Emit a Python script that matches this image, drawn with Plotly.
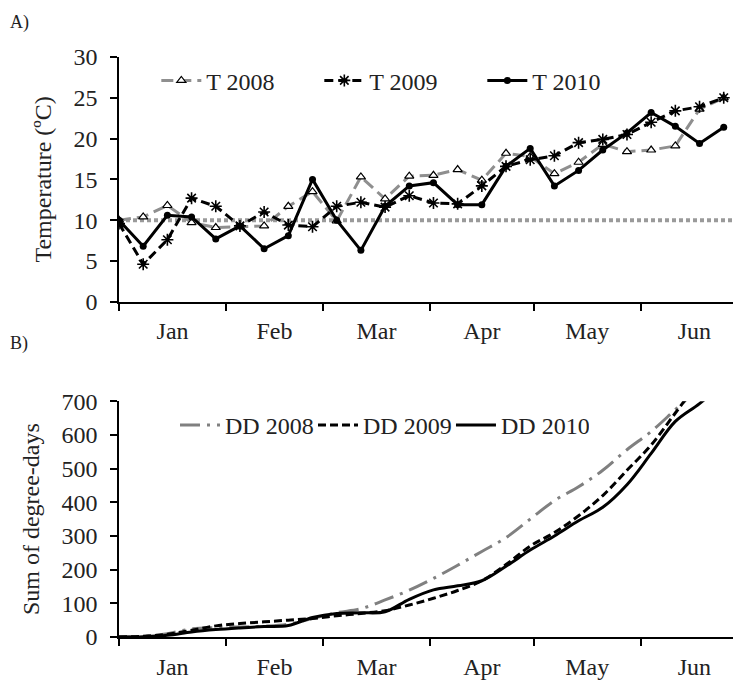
import pandas as pd
import plotly.graph_objects as go
from plotly.subplots import make_subplots

# ---------------- data ----------------
START_DATE = "2010-01-01"
N_WEEKS = 26
week_dates = pd.date_range(START_DATE, periods=N_WEEKS, freq="7D")

BASE_TEMP = 10  # threshold temperature (dotted line)

t_2008 = [10.0, 10.4, 11.8, 9.7, 9.1, 9.2, 9.3, 11.7, 13.5, 9.9, 15.3, 12.6, 15.4,
          15.5, 16.2, 14.9, 18.2, 17.8, 15.7, 17.1, 19.3, 18.4, 18.6, 19.1, 23.6, 25.0]
t_2009 = [9.6, 4.6, 7.6, 12.7, 11.7, 9.3, 11.0, 9.4, 9.2, 11.7, 12.2, 11.6, 13.0,
          12.1, 12.0, 14.2, 16.6, 17.4, 17.9, 19.5, 19.9, 20.5, 22.0, 23.4, 23.9, 25.0]
t_2010 = [10.0, 6.8, 10.6, 10.4, 7.7, 9.3, 6.5, 8.1, 15.0, 10.0, 6.3, 11.7, 14.2,
          14.6, 11.9, 11.9, 16.6, 18.8, 14.2, 16.1, 18.6, 20.7, 23.2, 21.5, 19.4, 21.4]

dd_2008 = [0, 2, 10, 24, 28, 30, 32, 38, 55, 72, 84, 110, 139,
           174, 213, 254, 295, 350, 405, 446, 495, 556, 610, 675, 740, 800]
dd_2009 = [0, 2, 8, 20, 33, 40, 45, 50, 55, 63, 70, 78, 95,
           115, 138, 167, 215, 270, 310, 360, 420, 495, 570, 665, 760, 850]
dd_2010 = [0, 1, 5, 15, 22, 27, 31, 34, 58, 70, 72, 75, 112,
           140, 152, 167, 210, 258, 300, 345, 385, 452, 545, 640, 693, 755]

t_names = ["T 2008", "T 2009", "T 2010"]
dd_names = ["DD 2008", "DD 2009", "DD 2010"]
temp_ticks = [0, 5, 10, 15, 20, 25, 30]
dd_ticks = [0, 100, 200, 300, 400, 500, 600, 700]
x_range = ["2010-01-01", "2010-06-30"]

# ---------------- figure ----------------
FONT = "Liberation Serif"
FS = 24
TXT = "#222222"
fig = make_subplots(rows=2, cols=1, vertical_spacing=0.05)

GRAY = "#8f8f8f"
fig.add_trace(go.Scatter(
    x=week_dates, y=t_2008, name=t_names[0], mode="lines+markers",
    line=dict(color=GRAY, width=3, dash="12px,6px"),
    marker=dict(symbol="triangle-up", size=8, color="white",
                line=dict(color="black", width=1.2)),
    legend="legend"), row=1, col=1)
fig.add_trace(go.Scatter(
    x=week_dates, y=t_2009, name=t_names[1], mode="lines+markers",
    line=dict(color="black", width=3, dash="9px,5px"),
    marker=dict(symbol="asterisk-open", size=10, color="black",
                line=dict(color="black", width=1.6)),
    legend="legend"), row=1, col=1)
fig.add_trace(go.Scatter(
    x=week_dates, y=t_2010, name=t_names[2], mode="lines+markers",
    line=dict(color="black", width=3),
    marker=dict(symbol="circle", size=7, color="black"),
    legend="legend"), row=1, col=1)

fig.add_hline(y=BASE_TEMP, line=dict(color="#9a9a9a", width=4, dash="4px,3px"),
              row=1, col=1, layer="below")

fig.add_trace(go.Scatter(
    x=week_dates, y=dd_2008, name=dd_names[0], mode="lines",
    line=dict(color="#808080", width=3, dash="20px,7px,3px,7px", shape="spline"),
    legend="legend2"), row=2, col=1)
fig.add_trace(go.Scatter(
    x=week_dates, y=dd_2009, name=dd_names[1], mode="lines",
    line=dict(color="black", width=3, dash="8px,4px", shape="spline"),
    legend="legend2"), row=2, col=1)
fig.add_trace(go.Scatter(
    x=week_dates, y=dd_2010, name=dd_names[2], mode="lines",
    line=dict(color="black", width=3, shape="spline"),
    legend="legend2"), row=2, col=1)

axis_common = dict(showgrid=False, zeroline=False, showline=True,
                   linecolor="black", linewidth=1.5, ticks="outside",
                   ticklen=7, tickwidth=1.5, tickcolor="black",
                   tickfont=dict(family=FONT, size=FS, color=TXT))

xcommon = dict(axis_common, type="date", range=x_range, dtick="M1",
               tickformat="%b", ticklabelmode="period", tick0="2010-01-01")
fig.update_xaxes(**xcommon)
fig.update_xaxes(domain=[0, 1])

fig.update_yaxes(**axis_common)
fig.update_yaxes(range=[0, 30], tickvals=temp_ticks, ticklabelstandoff=8,
                 title=dict(text="Temperature (ºC)", standoff=15,
                            font=dict(family=FONT, size=FS, color=TXT)),
                 domain=[0.578, 1.0], row=1, col=1)
fig.update_yaxes(range=[0, 700], tickvals=dd_ticks, ticklabelstandoff=8,
                 title=dict(text="Sum of degree-days", standoff=15,
                            font=dict(family=FONT, size=FS, color=TXT)),
                 domain=[0.0, 0.4065], row=2, col=1)

legend_common = dict(orientation="h", bgcolor="rgba(0,0,0,0)",
                     font=dict(family=FONT, size=FS, color=TXT),
                     xanchor="left", yanchor="middle",
                     entrywidthmode="pixels", itemwidth=40)
# page body has an 8px margin: figure is sized/offset so the plot areas
# land where the reference's do
fig.update_layout(
    width=733, height=672,
    margin=dict(l=111, r=0, t=49, b=38),
    plot_bgcolor="white", paper_bgcolor="white",
    font=dict(family=FONT, size=FS, color=TXT),
    legend=dict(legend_common, x=0.06, y=0.959, entrywidth=108),
    legend2=dict(legend_common, x=0.09, y=0.365, entrywidth=83),
    showlegend=True,
    annotations=[
        dict(text="A)", xref="paper", yref="paper", x=-0.178, y=1.081,
             xanchor="left", yanchor="top", showarrow=False,
             font=dict(family=FONT, size=18, color=TXT)),
        dict(text="B)", xref="paper", yref="paper", x=-0.178, y=0.506,
             xanchor="left", yanchor="middle", showarrow=False,
             font=dict(family=FONT, size=18, color=TXT)),
    ],
)

fig.write_html("out.html")
